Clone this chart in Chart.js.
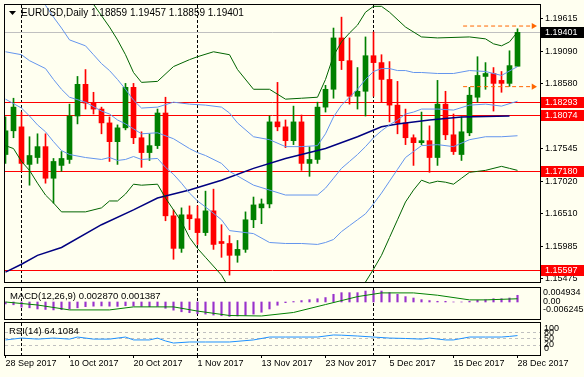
<!DOCTYPE html>
<html>
<head>
<meta charset="utf-8">
<script src="https://cdn.jsdelivr.net/npm/chart.js@4.4.1/dist/chart.umd.min.js"></script>
<style>
html, body { margin: 0; padding: 0; background: #FFFFF0; }
#wrap { position: relative; width: 584px; height: 377px; overflow: hidden; }
#wrap canvas { position: absolute; left: 0; }
</style>
</head>
<body>
<div id="wrap">
  <canvas id="mainChart" width="584" height="286" style="top:0"></canvas>
  <canvas id="macdChart" width="584" height="35" style="top:286px"></canvas>
  <canvas id="rsiChart" width="584" height="56" style="top:321px"></canvas>
</div>
<script>
// --- data ---
const dateText = ['28 Sep 2017', '10 Oct 2017', '20 Oct 2017', '1 Nov 2017', '13 Nov 2017', '23 Nov 2017', '5 Dec 2017', '15 Dec 2017', '28 Dec 2017'];
const dateIdx = [0, 8, 16, 24, 32, 40, 48, 56, 64];
const monthStartIdx = [2, 24, 46];

const opens = [1.17449, 1.17828, 1.17891, 1.17291, 1.17401, 1.17575, 1.17070, 1.17275, 1.17370, 1.18064,
  1.18570, 1.18270, 1.18175, 1.17954, 1.17654, 1.17875, 1.18522, 1.17717, 1.17480, 1.17591,
  1.18112, 1.16470, 1.15950, 1.16486, 1.16423, 1.16202, 1.16549, 1.16060, 1.16028, 1.15839,
  1.15934, 1.16407, 1.16597, 1.16660, 1.17970, 1.17891, 1.17670, 1.17970, 1.17307, 1.17370,
  1.18206, 1.18491, 1.19311, 1.18948, 1.18380, 1.18459, 1.19027, 1.18917, 1.18648, 1.18238,
  1.17954, 1.17717, 1.17638, 1.17670, 1.17401, 1.18254, 1.17764, 1.17449, 1.17796, 1.18364,
  1.18696, 1.18743, 1.18633, 1.18585, 1.18859];
const highs = [1.18049, 1.18348, 1.18127, 1.17733, 1.17780, 1.17780, 1.17386, 1.17496, 1.18254, 1.18696,
  1.18806, 1.18443, 1.18206, 1.18049, 1.17922, 1.18585, 1.18585, 1.17812, 1.17780, 1.18175,
  1.18364, 1.16565, 1.16597, 1.16628, 1.16628, 1.16864, 1.16896, 1.16328, 1.16155, 1.16076,
  1.16533, 1.16770, 1.16739, 1.18064, 1.18601, 1.18001, 1.18222, 1.18080, 1.17575, 1.18285,
  1.18554, 1.19469, 1.19643, 1.19311, 1.18838, 1.19327, 1.19406, 1.19043, 1.18933, 1.18617,
  1.18175, 1.17764, 1.18127, 1.17907, 1.18633, 1.18459, 1.18096, 1.18049, 1.18522, 1.19011,
  1.18917, 1.18838, 1.18775, 1.19106, 1.19457];
const lows = [1.17307, 1.17717, 1.17196, 1.16959, 1.17307, 1.16991, 1.16675, 1.17180, 1.17307, 1.17938,
  1.18175, 1.18096, 1.17780, 1.17338, 1.17291, 1.17843, 1.17622, 1.17244, 1.17354, 1.17544,
  1.16391, 1.15776, 1.15886, 1.16249, 1.16013, 1.16155, 1.15934, 1.15807, 1.15523, 1.15728,
  1.15886, 1.16281, 1.16344, 1.16597, 1.17828, 1.17559, 1.17607, 1.17196, 1.17101, 1.17307,
  1.18127, 1.18348, 1.18806, 1.18254, 1.18175, 1.18064, 1.18380, 1.18285, 1.17970, 1.17780,
  1.17607, 1.17275, 1.17607, 1.17165, 1.17275, 1.17686, 1.17449, 1.17354, 1.17749, 1.18285,
  1.18491, 1.18143, 1.18443, 1.18538, 1.18859];
const closes = [1.17828, 1.18206, 1.17307, 1.17433, 1.17575, 1.17070, 1.17338, 1.17386, 1.18064, 1.18570,
  1.18270, 1.18175, 1.17954, 1.17654, 1.17875, 1.18522, 1.17717, 1.17480, 1.17591, 1.18112,
  1.16470, 1.15950, 1.16486, 1.16423, 1.16202, 1.16549, 1.16013, 1.16028, 1.15839, 1.15934,
  1.16407, 1.16644, 1.16660, 1.17970, 1.17891, 1.17670, 1.17970, 1.17307, 1.17370, 1.18206,
  1.18491, 1.19311, 1.18948, 1.18380, 1.18459, 1.19027, 1.18917, 1.18648, 1.18238, 1.17954,
  1.17717, 1.17638, 1.17670, 1.17401, 1.18254, 1.17764, 1.17496, 1.17812, 1.18396, 1.18712,
  1.18743, 1.18585, 1.18585, 1.18869, 1.19401];

// outer bands (green)
const guIdx = [10, 11, 13, 14, 15, 16, 17, 19, 21, 23, 24, 26, 28, 29, 31, 33, 35, 37, 39, 40, 41, 42, 43, 44, 45, 46, 47, 48, 50, 52, 54, 58, 60, 61, 62, 63, 64];
const guVal = [1.20037, 1.19848, 1.19485, 1.19280, 1.19043, 1.18759, 1.18601, 1.18617, 1.18854, 1.18964,
  1.19011, 1.19090, 1.19043, 1.18806, 1.18491, 1.18491, 1.18333, 1.18348, 1.18364, 1.18648,
  1.19027, 1.19248, 1.19390, 1.19516, 1.19722, 1.19816, 1.19816, 1.19722, 1.19485, 1.19327,
  1.19311, 1.19327, 1.19296, 1.19217, 1.19185, 1.19248, 1.19406];
const glIdx = [0, 1, 2, 3, 4, 5, 6, 7, 10, 12, 13, 14, 15, 16, 17, 19, 20, 21, 22, 23, 24, 25, 27, 28, 30, 40, 44, 45, 46, 47, 48, 49, 50, 51, 52, 53, 54, 55, 56, 57, 58, 59, 60, 62, 63, 64];
const glVal = [1.17591, 1.17544, 1.17338, 1.17196, 1.16991, 1.16802, 1.16675, 1.16533, 1.16533, 1.16597,
  1.16707, 1.16707, 1.16818, 1.16975, 1.16959, 1.16975, 1.16754, 1.16565, 1.16376, 1.16123,
  1.15950, 1.15807, 1.15523, 1.15302, 1.15018, 1.14860, 1.15176, 1.15413, 1.15618, 1.15839,
  1.16123, 1.16407, 1.16691, 1.16881, 1.17039, 1.16991, 1.17023, 1.17007, 1.16975, 1.17070,
  1.17165, 1.17180, 1.17196, 1.17260, 1.17228, 1.17196];
// inner bands and middle (light blue)
const buIdx = [4, 5, 6, 7, 8, 10, 11, 12, 13, 14, 15, 16, 17, 19, 21, 23, 25, 27, 28, 29, 31, 33, 35, 37, 39, 40, 41, 42, 43, 44, 45, 46, 47, 48, 49, 50, 51, 52, 54, 56, 58, 60, 62, 64];
const buVal = [1.19990, 1.19832, 1.19643, 1.19469, 1.19280, 1.19185, 1.19043, 1.18901, 1.18790, 1.18648,
  1.18491, 1.18317, 1.18191, 1.18206, 1.18285, 1.18254, 1.18238, 1.18206, 1.18112, 1.17954,
  1.17733, 1.17686, 1.17575, 1.17575, 1.17591, 1.17780, 1.18049, 1.18238, 1.18364, 1.18491,
  1.18648, 1.18775, 1.18822, 1.18822, 1.18790, 1.18790, 1.18759, 1.18759, 1.18743, 1.18743,
  1.18790, 1.18775, 1.18712, 1.18854];
const midIdx = [0, 2, 3, 5, 6, 7, 8, 10, 12, 13, 14, 15, 16, 17, 19, 21, 23, 24, 25, 27, 28, 31, 35, 39, 40, 41, 42, 43, 44, 45, 46, 47, 48, 49, 50, 51, 52, 54, 56, 58, 60, 62, 64];
const midVal = [1.19090, 1.19043, 1.18948, 1.18822, 1.18648, 1.18491, 1.18364, 1.18285, 1.18143, 1.18096,
  1.18001, 1.17938, 1.17859, 1.17780, 1.17796, 1.17701, 1.17544, 1.17480, 1.17433, 1.17307,
  1.17180, 1.16960, 1.16802, 1.16802, 1.16912, 1.17070, 1.17228, 1.17338, 1.17449, 1.17575,
  1.17717, 1.17828, 1.17922, 1.18001, 1.18096, 1.18127, 1.18175, 1.18175, 1.18159, 1.18238,
  1.18254, 1.18222, 1.18301];
const blIdx = [0, 2, 3, 4, 5, 6, 7, 8, 10, 12, 13, 14, 15, 16, 17, 19, 20, 21, 22, 23, 24, 25, 27, 28, 31, 33, 35, 37, 39, 40, 41, 42, 43, 44, 45, 46, 47, 48, 49, 50, 51, 52, 54, 56, 58, 60, 62, 64];
const blVal = [1.18333, 1.18191, 1.18064, 1.17922, 1.17812, 1.17654, 1.17512, 1.17449, 1.17401, 1.17370,
  1.17401, 1.17354, 1.17370, 1.17417, 1.17370, 1.17386, 1.17244, 1.17133, 1.16991, 1.16833,
  1.16707, 1.16612, 1.16407, 1.16234, 1.16186, 1.16044, 1.16028, 1.16028, 1.16013, 1.16044,
  1.16092, 1.16218, 1.16313, 1.16407, 1.16502, 1.16660, 1.16833, 1.17023, 1.17212, 1.17401,
  1.17496, 1.17591, 1.17607, 1.17575, 1.17686, 1.17733, 1.17733, 1.17749];
// long moving average (navy)
const maIdx = [0, 2, 4, 7, 12, 16, 19, 23, 27, 31, 35, 40, 44, 47, 49, 53, 57, 63];
const maVal = [1.15571, 1.15697, 1.15839, 1.15965, 1.16328, 1.16565, 1.16754, 1.16881, 1.17039, 1.17228,
  1.17386, 1.17544, 1.17733, 1.17891, 1.17938, 1.18001, 1.18049, 1.18064];

const priceTicks = [1.19615, 1.19090, 1.18580, 1.18060, 1.17545, 1.17020, 1.16510, 1.15985, 1.15475];
const levelPrices = [1.18293, 1.18074, 1.17180, 1.15597];
const lastPrice = 1.19401;
const arrowPrices = [1.19501, 1.18533];
const arrowFrom = 57.2, arrowTo = 66.0;
const titleText = 'EURUSD,Daily 1.18859 1.19457 1.18859 1.19401';

const macdHist = [-0.0008, -0.0012, -0.0022, -0.0025, -0.0030, -0.0032, -0.0034, -0.0033, -0.0030, -0.0025,
  -0.0020, -0.0018, -0.0017, -0.0018, -0.0019, -0.0016, -0.0017, -0.0019, -0.0020, -0.0019,
  -0.0027, -0.0035, -0.0042, -0.0046, -0.0050, -0.0052, -0.0056, -0.0059, -0.0062, -0.0060,
  -0.0057, -0.0052, -0.0044, -0.0030, -0.0014, -0.0003, 0.0002, 0.0006, 0.0010, 0.0014,
  0.0019, 0.0033, 0.0040, 0.0040, 0.0040, 0.0047, 0.0049, 0.0047, 0.0040, 0.0033,
  0.0023, 0.0017, 0.0010, 0.0006, 0.0003, 0.0003, 0.0000, 0.0000, 0.0003, 0.0007,
  0.0010, 0.0014, 0.0014, 0.0017, 0.00287];
const sigIdx = [0, 4, 8, 13, 16, 19, 21, 24, 28, 32, 36, 40, 44, 47, 51, 54, 58, 60, 64];
const sigVal = [0.0000, -0.0013, -0.0034, -0.0034, -0.0021, -0.0021, -0.0021, -0.0039, -0.0058, -0.0060,
  -0.0045, -0.0011, 0.0023, 0.0039, 0.0039, 0.0029, 0.0009, 0.0009, 0.001387];
const macdTickText = ['0.004934', '0.00', '-0.006245'];
const macdText = 'MACD(12,26,9) 0.002870 0.001387';

const rsiIdx = [0, 2, 4, 6, 8, 9, 11, 13, 15, 16, 18, 19, 20, 21, 23, 25, 28, 31, 33, 35, 37, 39, 41, 42, 44, 46, 48, 50, 52, 53, 55, 56, 58, 60, 62, 63, 64];
const rsiVal = [43, 52, 47, 52, 47, 57, 47, 47, 57, 43, 43, 52, 38, 28, 33, 33, 33, 43, 57, 57,
  57, 57, 67, 66, 62, 57, 52, 50, 47, 52, 43, 43, 57, 57, 57, 60, 64.1];
const rsiTicks = [100, 80, 50, 20, 0];
const rsiLevels = [80, 50, 20];
const rsiText = 'RSI(14) 64.1084';

// --- chart setup ---
const FONT = '"Liberation Sans", Arial, sans-serif';
Chart.defaults.font.family = FONT;
Chart.defaults.font.size = 9;
Chart.defaults.color = '#000';
Chart.defaults.animation = false;
Chart.defaults.events = [];
Chart.defaults.plugins.legend.display = false;
Chart.defaults.plugins.tooltip.enabled = false;

const X_MIN = -0.0625, X_MAX = 66.8125;
const pts = (xs, ys) => xs.map((x, i) => ({ x: x, y: ys[i] }));
const upColor = opens.map((o, i) => closes[i] >= o ? '#008000' : '#FF0000');

function lineSet(xs, ys, color, width) {
  return { type: 'line', data: pts(xs, ys), borderColor: color, borderWidth: width || 1,
    pointRadius: 0, tension: 0, order: 0 };
}
function arrowSet(price) {
  return { type: 'line', data: [{ x: arrowFrom, y: price }, { x: arrowTo, y: price }],
    borderColor: '#FF6600', borderWidth: 1, borderDash: [4, 3],
    pointRadius: [0, 3.5], pointStyle: 'triangle', pointRotation: 90,
    pointBackgroundColor: '#FF6600', pointBorderWidth: 0, clip: false, order: 0 };
}
function hiddenX() {
  return { type: 'linear', min: X_MIN, max: X_MAX, offset: false, display: false };
}
function fitRight(s) { s.width = 44; s.paddingTop = 0; s.paddingBottom = 0; }

const framePlugin = {
  id: 'frame',
  beforeDatasetsDraw(chart) {
    const { ctx, chartArea: a, scales: { x } } = chart;
    ctx.save();
    ctx.strokeStyle = '#000';
    ctx.lineWidth = 1;
    ctx.setLineDash([3, 2]);
    monthStartIdx.forEach(i => {
      const xx = Math.floor(x.getPixelForValue(i)) + 0.5;
      ctx.beginPath(); ctx.moveTo(xx, a.top); ctx.lineTo(xx, a.bottom); ctx.stroke();
    });
    ctx.restore();
  },
  afterDraw(chart) {
    const { ctx, chartArea: a } = chart;
    ctx.save();
    ctx.strokeStyle = '#000';
    ctx.lineWidth = 1;
    ctx.strokeRect(a.left - 0.5, a.top - 0.5, a.right - a.left + 1, a.bottom - a.top + 1);
    ctx.restore();
  }
};

function captionPlugin(text, x, y, arrow, size) {
  return {
    id: 'caption',
    afterDraw(chart) {
      const ctx = chart.ctx;
      ctx.save();
      ctx.fillStyle = '#000';
      ctx.textBaseline = 'middle';
      if (arrow) {
        ctx.beginPath();
        ctx.moveTo(9, y - 2); ctx.lineTo(16, y - 2); ctx.lineTo(12.5, y + 2); ctx.closePath();
        ctx.fill();
      }
      ctx.font = size + 'px ' + FONT;
      ctx.fillText(text, x, y);
      ctx.restore();
    }
  };
}

const levelPlugin = {
  id: 'levels',
  beforeDatasetsDraw(chart) {
    const { ctx, chartArea: a, scales: { y } } = chart;
    ctx.save();
    ctx.lineWidth = 1;
    const hline = (p, color) => {
      const yy = Math.round(y.getPixelForValue(p)) + 0.5;
      ctx.strokeStyle = color;
      ctx.beginPath(); ctx.moveTo(a.left, yy); ctx.lineTo(a.right, yy); ctx.stroke();
    };
    hline(lastPrice, '#C0C0C0');
    levelPrices.forEach(p => hline(p, '#FF0000'));
    ctx.restore();
  },
  afterDraw(chart) {
    const { ctx, chartArea: a, scales: { y } } = chart;
    ctx.save();
    ctx.font = '9px ' + FONT;
    ctx.textBaseline = 'middle';
    const tag = (p, bg) => {
      const yy = Math.round(y.getPixelForValue(p));
      ctx.fillStyle = bg;
      ctx.fillRect(a.right + 1, yy - 5, chart.width - a.right - 1, 11);
      ctx.fillStyle = '#fff';
      ctx.fillText(p.toFixed(5), a.right + 5, yy + 0.5);
    };
    levelPrices.forEach(p => tag(p, '#FF0000'));
    tag(lastPrice, '#000');
    ctx.restore();
  }
};

const rsiLevelPlugin = {
  id: 'rsiLevels',
  beforeDatasetsDraw(chart) {
    const { ctx, chartArea: a, scales: { y } } = chart;
    ctx.save();
    ctx.strokeStyle = '#C0C0C0';
    ctx.lineWidth = 1;
    ctx.setLineDash([3, 3]);
    rsiLevels.forEach(v => {
      const yy = Math.round(y.getPixelForValue(v)) + 0.5;
      ctx.beginPath(); ctx.moveTo(a.left, yy); ctx.lineTo(a.right, yy); ctx.stroke();
    });
    ctx.restore();
  }
};

// main price panel
new Chart(document.getElementById('mainChart'), {
  type: 'bar',
  data: {
    datasets: [
      lineSet(guIdx, guVal, '#006400'),
      lineSet(glIdx, glVal, '#006400'),
      lineSet(buIdx, buVal, '#6495ED'),
      lineSet(midIdx, midVal, '#6495ED'),
      lineSet(blIdx, blVal, '#6495ED'),
      lineSet(maIdx, maVal, '#000080', 1.5),
      arrowSet(arrowPrices[0]),
      arrowSet(arrowPrices[1]),
      { data: opens.map((o, i) => ({ x: i, y: [o, closes[i]] })), backgroundColor: upColor,
        barThickness: 5, grouped: false, minBarLength: 1, order: 2 },
      { data: lows.map((l, i) => ({ x: i, y: [l, highs[i]] })), backgroundColor: upColor,
        barThickness: 1, grouped: false, order: 3 }
    ]
  },
  options: {
    responsive: false,
    layout: { padding: { left: 5, top: 5, right: 0, bottom: 1 } },
    scales: {
      x: hiddenX(),
      y: {
        position: 'right', min: 1.15413, max: 1.19837,
        grid: { drawOnChartArea: false, drawTicks: true, tickLength: 3, color: '#000' },
        border: { display: false },
        ticks: { padding: 2, autoSkip: false, callback: v => v.toFixed(5) },
        afterBuildTicks: s => { s.ticks = priceTicks.map(v => ({ value: v })); },
        afterFit: fitRight
      }
    }
  },
  plugins: [framePlugin, levelPlugin, captionPlugin(titleText, 21, 13, true, 10)]
});

// MACD panel
new Chart(document.getElementById('macdChart'), {
  type: 'bar',
  data: {
    datasets: [
      lineSet(sigIdx, sigVal, '#008000'),
      { data: macdHist.map((v, i) => ({ x: i, y: v })), backgroundColor: '#9932CC',
        barThickness: 1.5, grouped: false, order: 2 }
    ]
  },
  options: {
    responsive: false,
    layout: { padding: { left: 5, top: 2, right: 0, bottom: 2 } },
    scales: {
      x: hiddenX(),
      y: {
        position: 'right', min: -0.0073, max: 0.0060,
        grid: { display: false, drawTicks: false, tickLength: 0 },
        border: { display: false },
        ticks: { padding: 3, autoSkip: false, callback: (v, i) => macdTickText[i] },
        afterBuildTicks: s => {
          s.ticks = [{ value: s.max - (s.max - s.min) * 0.16 }, { value: 0 },
            { value: s.max - (s.max - s.min) * 0.71 }];
        },
        afterFit: fitRight
      }
    }
  },
  plugins: [framePlugin, captionPlugin(macdText, 10, 10, false, 9.5)]
});

// RSI panel with the date axis
new Chart(document.getElementById('rsiChart'), {
  type: 'line',
  data: {
    datasets: [lineSet(rsiIdx, rsiVal, '#1E90FF')]
  },
  options: {
    responsive: false,
    layout: { padding: { left: 5, top: 2, right: 0, bottom: 0 } },
    scales: {
      x: {
        type: 'linear', min: X_MIN, max: X_MAX, offset: false,
        grid: { drawOnChartArea: false, drawTicks: true, tickLength: 3, color: '#000' },
        border: { display: false },
        ticks: { align: 'start', padding: 0, maxRotation: 0, autoSkip: false,
          callback: (v, i) => dateText[i] },
        afterBuildTicks: s => { s.ticks = dateIdx.map(v => ({ value: v })); },
        afterFit: s => { s.height = 22; s.paddingLeft = 0; s.paddingRight = 0; }
      },
      y: {
        position: 'right', min: -30, max: 125,
        grid: { display: false, drawTicks: false, tickLength: 0 },
        border: { display: false },
        ticks: { padding: 4, autoSkip: false, callback: v => String(v) },
        afterBuildTicks: s => { s.ticks = rsiTicks.map(v => ({ value: v })); },
        afterFit: fitRight
      }
    }
  },
  plugins: [framePlugin, rsiLevelPlugin, captionPlugin(rsiText, 9, 10, false, 9.5)]
});
</script>
</body>
</html>
